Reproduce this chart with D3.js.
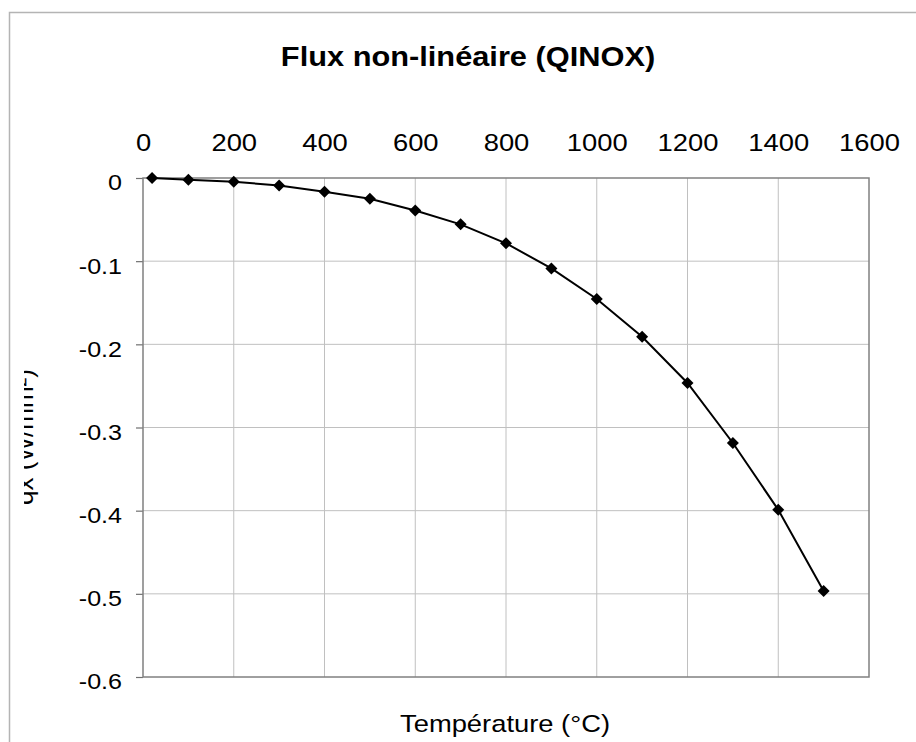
<!DOCTYPE html>
<html>
<head>
<meta charset="utf-8">
<script src="https://cdn.jsdelivr.net/npm/d3@7"></script>
<style>
  body { margin: 0; background: #fff; }
  text { font-family: "Liberation Sans", Arial, sans-serif; fill: #000; }
</style>
</head>
<body>
<svg id="chart"></svg>
<script>
// data
const temps = [20, 100, 200, 300, 400, 500, 600, 700, 800, 900, 1000, 1100, 1200, 1300, 1400, 1500];
const flux = [0, -0.002, -0.0045, -0.009, -0.0165, -0.025, -0.039, -0.0557, -0.0785, -0.1087, -0.1455, -0.1908, -0.2465, -0.3186, -0.399, -0.4966];
const xTicks = [0, 200, 400, 600, 800, 1000, 1200, 1400, 1600];
const yTicks = [0, -0.1, -0.2, -0.3, -0.4, -0.5, -0.6];

const W = 916, H = 742;
const margin = { left: 143, top: 178 };
const plotW = 726, plotH = 499;
const sx = 1.14; // text in the original is a bit wide

const svg = d3.select("#chart").attr("width", W).attr("height", H);

// outer frame (only top + left visible)
svg.append("path")
  .attr("d", "M9.5,742 L9.5,12.5 L916,12.5")
  .attr("fill", "none")
  .attr("stroke", "#b4b4b4")
  .attr("stroke-width", 1.5);

const x = d3.scaleLinear().domain([0, 1600]).range([0, plotW]);
const y = d3.scaleLinear().domain([-0.6, 0]).range([plotH, 0]);

const g = svg.append("g")
  .attr("transform", "translate(" + margin.left + "," + margin.top + ")");

// grid
g.append("g").selectAll("line")
  .data(xTicks.slice(1, -1))
  .join("line")
  .attr("x1", d => x(d)).attr("x2", d => x(d))
  .attr("y1", 0).attr("y2", plotH)
  .attr("stroke", "#c0c0c0").attr("stroke-width", 1);

g.append("g").selectAll("line")
  .data(yTicks.slice(1, -1))
  .join("line")
  .attr("x1", 0).attr("x2", plotW)
  .attr("y1", d => y(d)).attr("y2", d => y(d))
  .attr("stroke", "#c0c0c0").attr("stroke-width", 1);

// top axis labels
const xAxis = g.append("g")
  .call(d3.axisTop(x).tickValues(xTicks).tickSize(0).tickPadding(27).tickFormat(d => String(d)));
xAxis.select(".domain").remove();
xAxis.selectAll("text")
  .attr("font-size", 24)
  .attr("font-family", "Liberation Sans, Arial, sans-serif")
  .attr("transform", "scale(" + sx + ",1)");

// left axis
const yAxis = g.append("g")
  .call(d3.axisLeft(y).tickValues(yTicks).tickSize(7).tickFormat(d => String(d)));
yAxis.select(".domain").remove();
yAxis.selectAll("line").attr("stroke", "#707070").attr("stroke-width", 1.2);
yAxis.selectAll("text")
  .attr("font-size", 22)
  .attr("font-family", "Liberation Sans, Arial, sans-serif")
  .attr("x", -21 / sx)
  .attr("dy", "0.54em")
  .attr("transform", "scale(" + sx + ",1)");

// plot border
g.append("rect")
  .attr("width", plotW).attr("height", plotH)
  .attr("fill", "none")
  .attr("stroke", "#808080")
  .attr("stroke-width", 1.5);

// series
const pts = temps.map((t, i) => [t, flux[i]]);
g.append("path")
  .datum(pts)
  .attr("fill", "none")
  .attr("stroke", "#000")
  .attr("stroke-width", 2)
  .attr("d", d3.line().x(d => x(d[0])).y(d => y(d[1])));

g.append("g").selectAll("path")
  .data(pts)
  .join("path")
  .attr("d", d3.symbol(d3.symbolSquare, 72))
  .attr("transform", d => "translate(" + x(d[0]) + "," + y(d[1]) + ") rotate(45)")
  .attr("fill", "#000");

// title
svg.append("text")
  .attr("transform", "translate(468,66) scale(" + sx + ",1)")
  .attr("text-anchor", "middle")
  .attr("font-size", 27)
  .attr("font-weight", "bold")
  .text("Flux non-linéaire (QINOX)");

// x axis title
svg.append("text")
  .attr("transform", "translate(505,732) scale(" + sx + ",1)")
  .attr("text-anchor", "middle")
  .attr("font-size", 24)
  .text("Température  (°C)");

// y axis title, cut off on the left like the original
svg.append("clipPath").attr("id", "ylab-clip")
  .append("rect").attr("x", 24).attr("y", 300).attr("width", 40).attr("height", 300);

svg.append("g").attr("clip-path", "url(#ylab-clip)")
  .append("text")
  .attr("transform", "translate(33,437) rotate(-90)")
  .attr("text-anchor", "middle")
  .attr("font-size", 26)
  .text("qx (W/mm²)");
</script>
</body>
</html>
